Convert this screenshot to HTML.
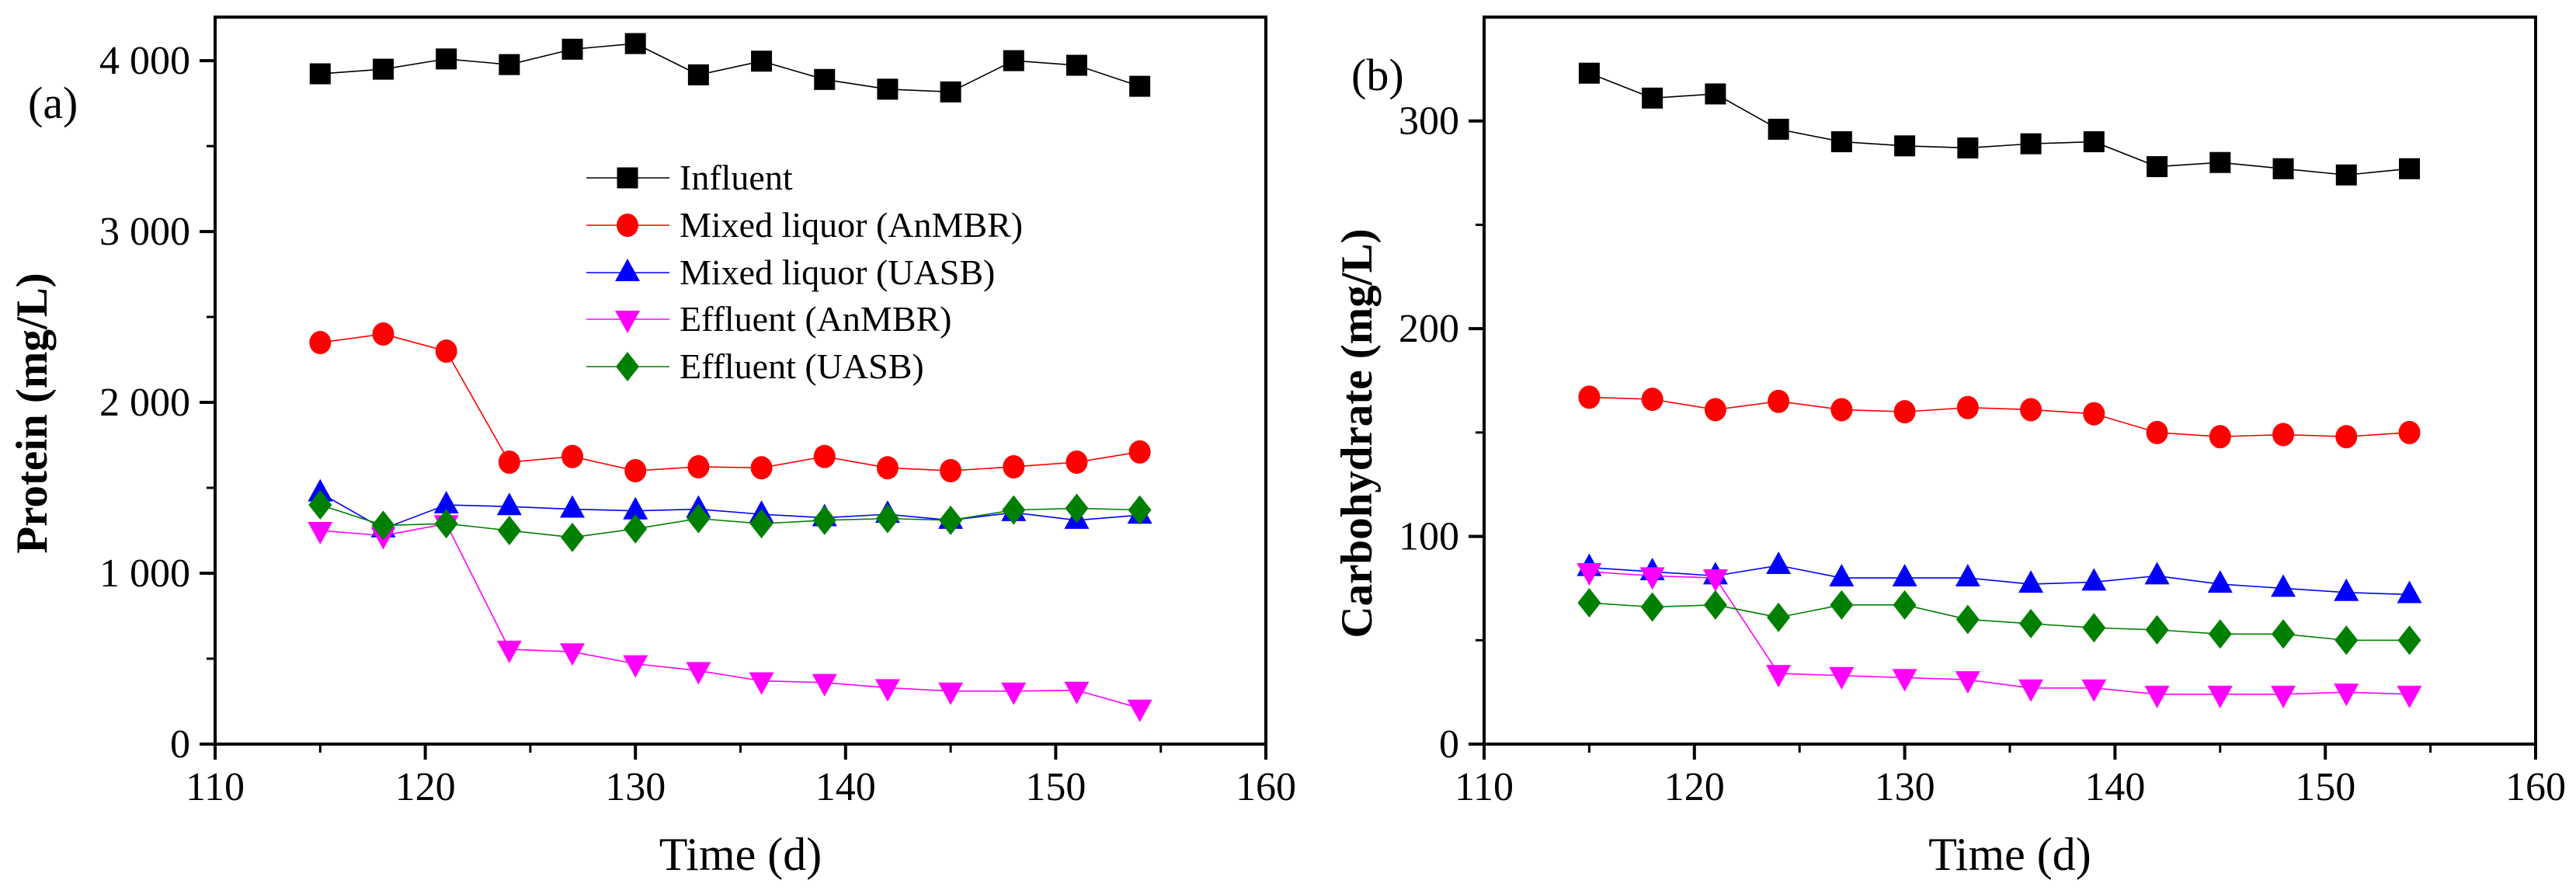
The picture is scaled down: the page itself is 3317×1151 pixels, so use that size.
<!DOCTYPE html>
<html><head><meta charset="utf-8"><style>
html,body{margin:0;padding:0;background:#fff;}
svg{display:block;font-family:"Liberation Serif",serif;}
</style></head><body>
<svg id="fig" width="3317" height="1151" viewBox="0 0 3317 1151" xmlns="http://www.w3.org/2000/svg"></svg>
<script>
const days = [115,118,121,124,127,130,133,136,139,142,145,148,151,154];
const seriesNames = ["Influent","Mixed liquor (AnMBR)","Mixed liquor (UASB)","Effluent (AnMBR)","Effluent (UASB)"];
const proteinInfluent = [3923,3950,4010,3977,4067,4100,3917,3997,3890,3833,3817,4000,3973,3850];
const proteinMixedAnMBR = [2350,2400,2300,1650,1683,1600,1623,1617,1683,1617,1600,1623,1650,1710];
const proteinMixedUASB = [1470,1260,1400,1390,1375,1365,1375,1345,1325,1345,1310,1355,1310,1340];
const proteinEffAnMBR = [1250,1220,1290,555,540,470,430,370,360,330,310,310,315,210];
const proteinEffUASB = [1400,1280,1290,1250,1210,1260,1320,1290,1310,1320,1310,1370,1380,1370];
const carbInfluent = [323,311,313,296,290,288,287,289,290,278,280,277,274,277];
const carbMixedAnMBR = [167,166,161,165,161,160,162,161,159,150,148,149,148,150];
const carbMixedUASB = [85,83,81,86,80,80,80,77,78,81,77,75,73,72];
const carbEffAnMBR = [83,81,80,34,33,32,31,27,27,24,24,24,25,24];
const carbEffUASB = [68,66,67,61,67,67,60,58,56,55,53,53,50,50];
const xTicks = [110,120,130,140,150,160];
const proteinTicks = [0,1000,2000,3000,4000];
const proteinTickLabels = ["0","1 000","2 000","3 000","4 000"];
const carbTicks = [0,100,200,300];
const carbTickLabels = ["0","100","200","300"];

const NS="http://www.w3.org/2000/svg";
const svg=document.getElementById('fig');
function mk(tag,attrs,parent){const e=document.createElementNS(NS,tag);for(const k in attrs)e.setAttribute(k,attrs[k]);(parent||svg).appendChild(e);return e;}
const colors=["#000000","#ff0000","#0000ff","#ff00ff","#008000"];
const shapes=["square","circle","up","down","diamond"];

function marker(g,shape,cx,cy,col){
  let e;
  if(shape==="square") e=mk('rect',{x:cx-13.5,y:cy-13.5,width:27,height:27,fill:col},g);
  else if(shape==="circle") e=mk('ellipse',{cx:cx,cy:cy,rx:14,ry:15,fill:col},g);
  else if(shape==="up") e=mk('polygon',{points:`${cx},${cy-18} ${cx-16},${cy+11} ${cx+16},${cy+11}`,fill:col},g);
  else if(shape==="down") e=mk('polygon',{points:`${cx},${cy+18} ${cx-16},${cy-11} ${cx+16},${cy-11}`,fill:col},g);
  else e=mk('polygon',{points:`${cx},${cy-19} ${cx+15},${cy} ${cx},${cy+19} ${cx-15},${cy}`,fill:col},g);
  return e;
}

function panel(opt){
  const {x0,x1,yTop,y0,yMax,ticks,tickLabels,minorStep,series,name}=opt;
  const g=mk('g',{});
  
  
  const X=v=>x0+(v-110)/(160-110)*(x1-x0);
  const Y=v=>y0-v/yMax*(y0-yTop);
  series.forEach((vals,si)=>{
    const sg=mk('g',{},g);
    
    
    const pts=vals.map((v,i)=>X(days[i])+','+Y(v)).join(' ');
    mk('polyline',{points:pts,fill:'none',stroke:colors[si],'stroke-width':1.6},sg);
    vals.forEach((v,i)=>{
      const m=marker(sg,shapes[si],X(days[i]),Y(v),colors[si]);
      
      
    });
  });
  const fr=mk('rect',{x:x0,y:yTop,width:x1-x0,height:y0-yTop,fill:'none',stroke:'#000','stroke-width':4},g);
  
  
  xTicks.forEach(t=>{
    mk('line',{x1:X(t),x2:X(t),y1:y0,y2:y0+20,stroke:'#000','stroke-width':4},g);
    const tx=mk('text',{x:X(t),y:1030,'font-size':52,'text-anchor':'middle'},g);
    tx.textContent=t;
    
    
  });
  for(let t=115;t<160;t+=10) mk('line',{x1:X(t),x2:X(t),y1:y0,y2:y0+11,stroke:'#000','stroke-width':3},g);
  ticks.forEach((t,i)=>{
    mk('line',{x1:x0-20,x2:x0,y1:Y(t),y2:Y(t),stroke:'#000','stroke-width':4},g);
    const tx=mk('text',{x:x0-32,y:Y(t)+17,'font-size':52,'text-anchor':'end'},g);
    tx.textContent=tickLabels[i];
    
    
  });
  for(let t=minorStep;t<yMax;t+=2*minorStep) mk('line',{x1:x0-11,x2:x0,y1:Y(t),y2:Y(t),stroke:'#000','stroke-width':3},g);
  const xt=mk('text',{x:(x0+x1)/2,y:1120,'font-size':60,'text-anchor':'middle'},g);
  xt.textContent='Time (d)';
  
  
  return {X,Y,g};
}

panel({x0:277,x1:1630,yTop:22,y0:958,yMax:4255,ticks:proteinTicks,tickLabels:proteinTickLabels,minorStep:500,
  series:[proteinInfluent,proteinMixedAnMBR,proteinMixedUASB,proteinEffAnMBR,proteinEffUASB],name:'protein-panel'});
panel({x0:1911,x1:3265,yTop:22,y0:958,yMax:350,ticks:carbTicks,tickLabels:carbTickLabels,minorStep:50,
  series:[carbInfluent,carbMixedAnMBR,carbMixedUASB,carbEffAnMBR,carbEffUASB],name:'carbohydrate-panel'});

let t=mk('text',{x:0,y:0,'font-size':57,'font-weight':'bold','text-anchor':'middle',transform:'translate(60,532) rotate(-90)'});
t.textContent='Protein (mg/L)';


t=mk('text',{x:0,y:0,'font-size':57,'font-weight':'bold','text-anchor':'middle',transform:'translate(1766,558) rotate(-90)'});
t.textContent='Carbohydrate (mg/L)';


t=mk('text',{x:36,y:152,'font-size':58});
t.textContent='(a)';


t=mk('text',{x:1740,y:116,'font-size':58});
t.textContent='(b)';



const lg=mk('g',{});


const legY=[229,290,351,411,472];
seriesNames.forEach((n,i)=>{
  const eg=mk('g',{},lg);
  
  
  mk('line',{x1:755,x2:862,y1:legY[i],y2:legY[i],stroke:colors[i],'stroke-width':1.6},eg);
  marker(eg,shapes[i],808,legY[i],colors[i]);
  const tx=mk('text',{x:875,y:legY[i]+15,'font-size':46},eg);
  tx.textContent=n;
});
</script>
</body></html>
